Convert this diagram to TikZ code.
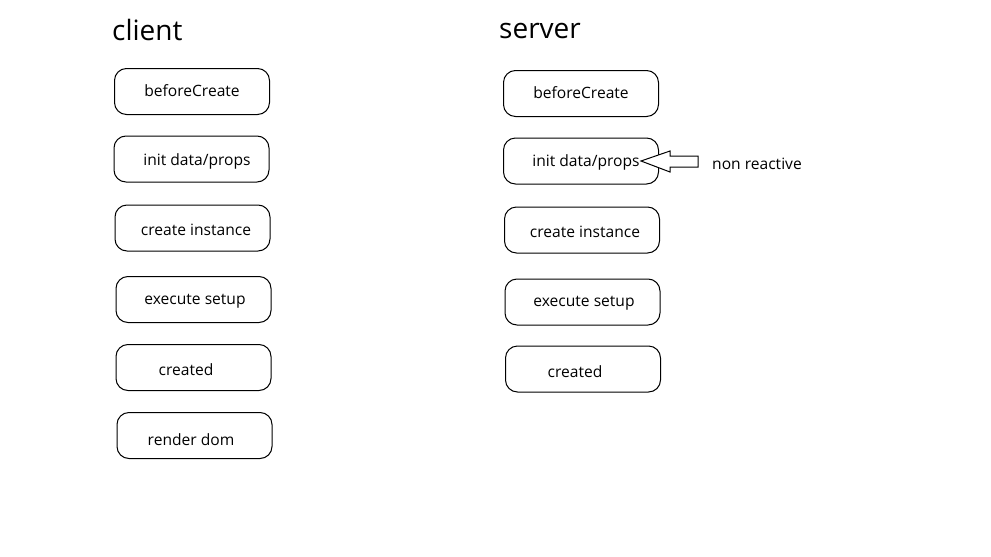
\documentclass[tikz,border=0pt]{standalone}
\usepackage{fontspec}
\setmainfont{Open Sans}
\begin{document}
\begin{tikzpicture}[x=1pt,y=-1pt,
  stage/.style={draw=black,line width=1pt,rounded corners=12pt,minimum width=155pt,minimum height=46pt,inner sep=0pt},
  lbl/.style={font=\fontsize{15.6}{18}\selectfont,inner sep=0pt},
  title/.style={font=\fontsize{28}{32}\selectfont,inner sep=0pt,anchor=west}]
\useasboundingbox (0,0) rectangle (991,557);
\node[title] (tc) at (112,30) {client};
\node[title] (ts) at (499,31) {server};
% client boxes
\node[stage] (c1) at (192,91.5) {};
\node[stage] (c2) at (191.5,159) {};
\node[stage] (c3) at (192.5,228) {};
\node[stage] (c4) at (193.5,299.5) {};
\node[stage] (c5) at (193.5,367.5) {};
\node[stage] (c6) at (194.5,435.5) {};
\node[lbl] (lc1) at (192,91) {beforeCreate};
\node[lbl] (lc2) at (197,161) {init data/props};
\node[lbl] (lc3) at (196,230) {create instance};
\node[lbl] (lc4) at (195,301.5) {execute setup};
\node[lbl] (lc5) at (186,370) {created};
\node[lbl] (lc6) at (191,440) {render dom};
% server boxes
\node[stage] (s1) at (581,93.5) {};
\node[stage] (s2) at (581,161) {};
\node[stage] (s3) at (582,230) {};
\node[stage] (s4) at (582.5,302) {};
\node[stage] (s5) at (583,369) {};
\node[lbl] (ls1) at (581,93) {beforeCreate};
\node[lbl] (ls2) at (586,162) {init data/props};
\node[lbl] (ls3) at (585,232) {create instance};
\node[lbl] (ls4) at (584,303.5) {execute setup};
\node[lbl] (ls5) at (575,372) {created};
% arrow
\coordinate (tip) at (641,161);
\draw[line width=1pt,fill=white] (tip) -- ++(29,-10) -- ++(0,5) -- ++(28,0) -- ++(0,11) -- ++(-28,0) -- ++(0,5) -- cycle;
\node[lbl,anchor=west] (nr) at (712,164) {non reactive};
\end{tikzpicture}
\end{document}
